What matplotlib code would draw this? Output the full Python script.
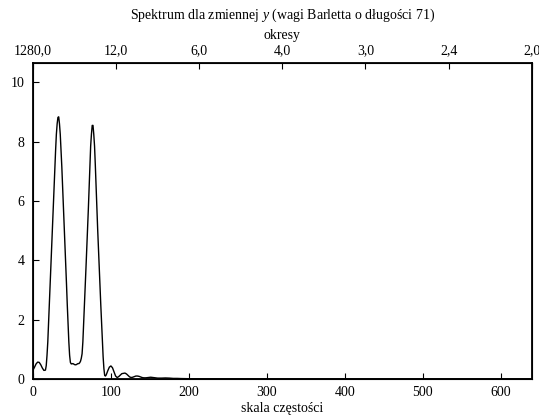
import matplotlib
matplotlib.use("Agg")
import matplotlib.pyplot as plt

plt.rcParams['font.family'] = ['Liberation Serif', 'DejaVu Serif']
plt.rcParams['mathtext.fontset'] = 'custom'
plt.rcParams['mathtext.rm'] = 'Liberation Serif'
plt.rcParams['mathtext.it'] = 'Liberation Serif:italic'

# values
freq = [0, 2, 4, 6, 8, 10, 12, 14, 16, 17, 18, 19, 20, 21, 22, 23, 24, 25, 26, 27, 28, 29,
        30, 31, 32, 33, 34, 35, 36, 37, 38, 39, 40, 41, 42, 43, 44, 45, 46, 47, 48, 49,
        50, 51, 52, 53, 54, 55, 56, 57, 58, 59, 60, 61, 62, 63, 64, 65, 66, 67, 68, 69,
        70, 71, 72, 73, 74, 75, 76, 77, 78, 79, 80, 81, 82, 83, 84, 85, 86, 87, 88, 89,
        90, 91, 92, 93, 94, 96, 98, 100, 102, 104, 106, 108, 110, 112, 114, 116, 118, 120,
        122, 124, 126, 128, 130, 132, 134, 136, 138, 140, 142, 145, 148, 151, 154, 157, 160,
        165, 170, 175, 180, 185, 190, 200, 220, 250, 300, 400, 500, 640]
spectrum = [0.30, 0.40, 0.51, 0.57, 0.56, 0.48, 0.37, 0.29, 0.30, 0.45, 0.80, 1.25, 1.90, 2.50,
            3.20, 3.90, 4.55, 5.20, 5.85, 6.50, 7.15, 7.70, 8.25, 8.60, 8.82, 8.84, 8.60, 8.25,
            7.70, 7.15, 6.50, 5.85, 5.20, 4.55, 3.90, 3.20, 2.50, 1.90, 1.25, 0.80, 0.56, 0.51,
            0.51, 0.52, 0.51, 0.49, 0.48, 0.48, 0.49, 0.51, 0.52, 0.52, 0.55, 0.60, 0.70, 0.85,
            1.25, 1.90, 2.50, 3.10, 3.75, 4.40, 5.05, 5.70, 6.45, 7.20, 7.85, 8.25, 8.55, 8.55,
            8.25, 7.85, 7.20, 6.45, 5.70, 5.05, 4.40, 3.75, 3.10, 2.50, 1.90, 1.25, 0.75, 0.35,
            0.12, 0.10, 0.14, 0.28, 0.40, 0.44, 0.38, 0.24, 0.10, 0.05, 0.08, 0.13, 0.18, 0.19,
            0.20, 0.17, 0.12, 0.07, 0.05, 0.06, 0.08, 0.10, 0.10, 0.09, 0.07, 0.05, 0.04, 0.04,
            0.05, 0.06, 0.05, 0.04, 0.03, 0.03, 0.035, 0.03, 0.02, 0.02, 0.015, 0.01, 0.005,
            0.004, 0.003, 0.003, 0.002, 0.002]

yticks = [0, 2, 4, 6, 8, 10]
xticks = [0, 100, 200, 300, 400, 500, 600]
period_ticks = [0, 1280 / 12, 1280 / 6, 1280 / 4, 1280 / 3, 1280 / 2.4, 640]
period_labels = ['1280,0', '12,0', '6,0', '4,0', '3,0', '2,4', '2,0']

fig = plt.figure(figsize=(5.39, 4.18), dpi=100)
ax = fig.add_axes([0.0612, 0.0933, 0.9253, 0.7557])

ax.plot(freq, spectrum, color='black', linewidth=1.0)
ax.set_xlim(0, 640)
ax.set_ylim(0, 10.65)
ax.set_xticks(xticks)
ax.set_yticks(yticks)
ax.tick_params(direction='in', length=4, width=0.8, labelsize=10, right=False, top=False)
ax.tick_params(axis='x', pad=5)
ax.tick_params(axis='y', pad=6)
ax.set_xlabel('skala częstości', fontsize=10, labelpad=2)
for s in ax.spines.values():
    s.set_linewidth(1.3)

top = ax.twiny()
top.set_xlim(0, 640)
top.set_xticks(period_ticks)
top.set_xticklabels(period_labels)
top.tick_params(direction='in', length=4, width=0.8, labelsize=10, pad=4)
top.set_xlabel('okresy', fontsize=10, labelpad=4)

fig.text(0.525, 0.964, 'Spektrum dla zmiennej $y$ (wagi Barletta o długości 71)',
         ha='center', va='center', fontsize=10)

fig.savefig('out.png', dpi=100)
